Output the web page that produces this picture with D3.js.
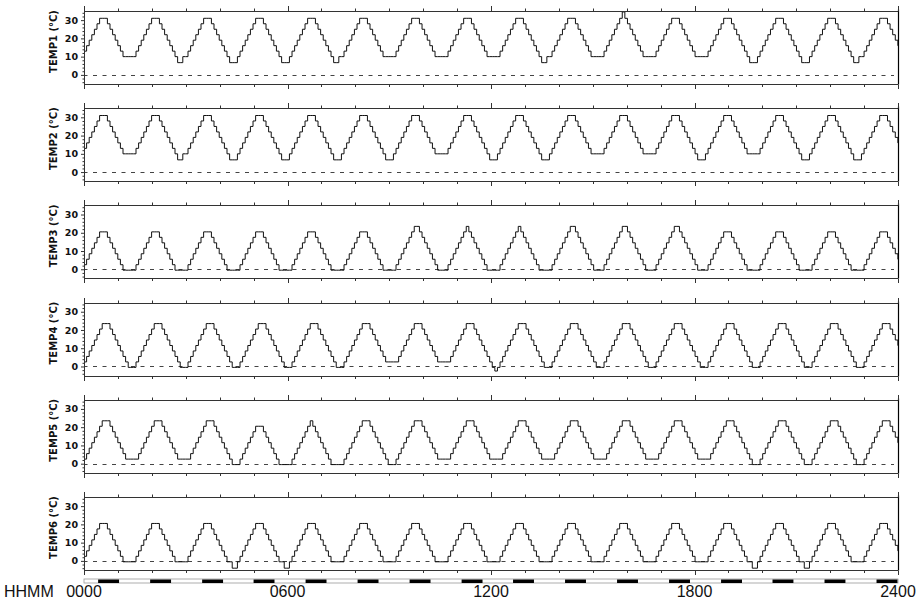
<!DOCTYPE html>
<html><head><meta charset="utf-8">
<script src="https://cdn.jsdelivr.net/npm/d3@7"></script>
<style>body{margin:0;background:#fff}svg{display:block}</style>
</head><body><svg id="c" width="918" height="600"></svg>
<script>
// ---- data ----
const seriesNames = ["TEMP1","TEMP2","TEMP3","TEMP4","TEMP5","TEMP6"];
const sampleMinutes = 4.6;           // logger interval
const hourTicks = d3.range(0, 1441, 60);
const majorTicks = [0, 360, 720, 1080, 1440];
const timeLabels = ["0000","0600","1200","1800","2400"];
const yMajor = [0, 10, 20, 30];
const yMinor = [-4,-2,2,4,6,8,12,14,16,18,22,24,26,28,32,34];
// dark-period bar (start minute, length minutes)
const darkStarts = [25,117,209,300,392,484,576,668,759,851,943,1035,1127,1218,1310,1402];
const darkLength = 37;
// step levels (°C) for each sensor; the code strings index into them
const levels1 = [6.7,10,13,16,19,22,25,28,31,34.5];
const levels2 = [6.7,10,13,16,19,22,25,28,31,34.5];
const levels3 = [-0.5,2.5,5.5,8.5,11.5,14.5,17.5,20.5,23.5];
const levels4 = [-0.5,2.5,5.5,8.5,11.5,14.5,17.5,20.5,23.5,-2.5];
const levels5 = [-0.5,2.5,5.5,8.5,11.5,14.5,17.5,20.5,23.5];
const levels6 = [-4,-0.5,2.5,5.5,8.5,11.5,14.5,17.5,20.5];
const temp1Codes = "23456788876543211111 23456788876543210011 23456788876543210001 23456788876543210001 23456788876543210011 23456788876543211111 23456788876543211111 23456788876543211111 23456788876543210011 23456788876543211111 23456789876543211111 23456788876543211111 23456788876543210001 23456788876543210001 23456788876543210011 23456788876543";
const temp2Codes = "23456788876543211111 23456788876543210011 23456788876543210001 23456788876543210001 23456788876543210001 23456788876543210001 23456788876543211111 23456788876543210001 23456788876543210001 23456788876543211111 23456788876543211111 23456788876543210001 23456788876543211111 23456788876543210001 23456788876543210001 23456788876543";
const temp3Codes = "12345677765432100000 12345677765432100000 12345677765432100000 12345677765432100000 12345677765432100000 12345677765432100000 12345678876543210000 12345678765432100000 12345678765432100000 12345678876543210000 12345678876543210000 12345678876543210000 12345677765432100000 12345677765432100000 12345677765432100000 12345677765432";
const temp4Codes = "12345678887654321000 12345678887654321000 12345678887654321000 12345678887654321000 12345678887654321000 12345678887654321111 12345678887654321111 12345678887654321090 12345678887654321000 12345678887654321000 12345678887654321000 12345678887654321000 12345678887654321000 12345678887654321000 12345678887654321000 12345678887654";
const temp5Codes = "12345678887654321111 12345678887654321111 12345678887654321000 12345677765432100000 12345678765432100000 12345678887654321000 12345678887654321111 12345678887654321111 12345678887654321111 12345678887654321111 12345678887654321111 12345678887654321111 12345678887654321000 12345678887654321000 12345678887654321000 12345678887654";
const temp6Codes = "23456788876543211111 23456788876543211111 23456788876543211001 23456788876543211001 23456788876543211111 23456788876543211111 23456788876543211111 23456788876543211111 23456788876543211111 23456788876543211111 23456788876543211111 23456788876543211111 23456788876543211001 23456788876543211001 23456788876543211111 23456788876543";
const seriesCodes = [temp1Codes,temp2Codes,temp3Codes,temp4Codes,temp5Codes,temp6Codes];
const seriesLevels = [levels1,levels2,levels3,levels4,levels5,levels6];

// ---- layout ----
const svg = d3.select("#c");
const left = 84, right = 898;
const panelTop0 = 11, panelStep = 97.2, panelH = 73;
const x = d3.scaleLinear().domain([0, 1440]).range([left, right]);
const axisColor = "#333";

seriesNames.forEach((name, k) => {
  const top = panelTop0 + k * panelStep;
  const y = d3.scaleLinear().domain([-5, 35]).range([top + panelH, top]);
  const g = svg.append("g");
  const codes = seriesCodes[k].replace(/\s+/g, "");
  const lv = seriesLevels[k];
  const pts = codes.split("").map((c, i) => ({t: i * sampleMinutes, v: lv[+c]}));
  pts.push({t: 1440, v: pts[pts.length - 1].v});

  g.append("line").attr("x1", x(0)).attr("x2", x(1440) - 4)
    .attr("y1", Math.round(y(0)) + 0.5).attr("y2", Math.round(y(0)) + 0.5)
    .attr("stroke", "#444").attr("stroke-dasharray", "4,5.5").attr("stroke-dashoffset", -9);

  g.append("path").datum(pts)
    .attr("d", d3.line().x(d => x(d.t)).y(d => y(d.v)).curve(d3.curveStepAfter))
    .attr("fill", "none").attr("stroke", "#111").attr("stroke-width", 1);

  const yTop = Math.round(top) + 0.5, yBot = Math.round(top + panelH) + 0.5;
  g.append("line").attr("x1", left).attr("x2", right).attr("y1", yTop).attr("y2", yTop).attr("stroke", axisColor);
  g.append("line").attr("x1", left).attr("x2", right).attr("y1", yBot).attr("y2", yBot).attr("stroke", axisColor);
  g.append("line").attr("x1", right + 0.5).attr("x2", right + 0.5).attr("y1", yTop - 2).attr("y2", yBot).attr("stroke", "#000").attr("stroke-width", 1.2);

  const minorH = hourTicks.filter(t => !majorTicks.includes(t));
  const tickG = g.append("g").attr("stroke", axisColor);
  minorH.forEach(t => {
    const xx = Math.round(x(t)) + 0.5;
    tickG.append("line").attr("x1", xx).attr("x2", xx).attr("y1", yTop).attr("y2", yTop - 3);
    tickG.append("line").attr("x1", xx).attr("x2", xx).attr("y1", yBot).attr("y2", yBot + 2.5);
  });
  majorTicks.forEach(t => {
    const xx = Math.round(x(t)) + 0.5;
    tickG.append("line").attr("x1", xx).attr("x2", xx).attr("y1", yTop).attr("y2", yTop - 5.5);
    tickG.append("line").attr("x1", xx).attr("x2", xx).attr("y1", yBot).attr("y2", yBot + 4.5);
  });

  const ax = g.append("g").attr("transform", `translate(${left + 0.5},0)`)
    .call(d3.axisLeft(y).tickValues(yMajor).tickSize(3.5).tickPadding(3).tickFormat(d3.format("d")));
  ax.select(".domain").attr("d", `M0,${yTop}V${yBot}`).attr("stroke", axisColor);
  ax.selectAll(".tick line").attr("stroke", axisColor);
  ax.selectAll("text").attr("font-family", "'DejaVu Sans', sans-serif").attr("font-size", 9.5)
    .attr("font-weight", "bold").attr("fill", "#111");
  const mn = g.append("g").attr("transform", `translate(${left + 0.5},0)`)
    .call(d3.axisLeft(y).tickValues(yMinor).tickSize(2).tickFormat(""));
  mn.select(".domain").remove();
  mn.selectAll(".tick line").attr("stroke", axisColor);

  g.append("text").attr("transform", `translate(57,${top + panelH / 2 - 6}) rotate(-90)`)
    .attr("text-anchor", "middle").attr("font-family", "'DejaVu Sans', sans-serif")
    .attr("font-size", 10).attr("font-weight", "bold").attr("fill", "#111")
    .text(name + " (°C)");
});

const barY = 579;
svg.append("rect").attr("x", left).attr("y", barY).attr("width", right - left).attr("height", 4)
  .attr("fill", "#fff").attr("stroke", "#999").attr("stroke-width", 0.8);
svg.append("g").selectAll("rect").data(darkStarts).join("rect")
  .attr("x", d => x(d)).attr("y", barY + 0.5)
  .attr("width", d => x(Math.min(1440, d + darkLength)) - x(d)).attr("height", 3.5)
  .attr("fill", "#000");

svg.append("g").selectAll("text").data(timeLabels).join("text")
  .attr("x", (d, i) => x(majorTicks[i])).attr("y", 597)
  .attr("text-anchor", "middle").attr("font-family", "'Liberation Sans', Arial, sans-serif")
  .attr("font-size", 16).attr("fill", "#111").text(d => d);
svg.append("text").attr("x", 4).attr("y", 597)
  .attr("font-family", "'Liberation Sans', Arial, sans-serif").attr("font-size", 16).attr("fill", "#111")
  .text("HHMM");
</script></body></html>
